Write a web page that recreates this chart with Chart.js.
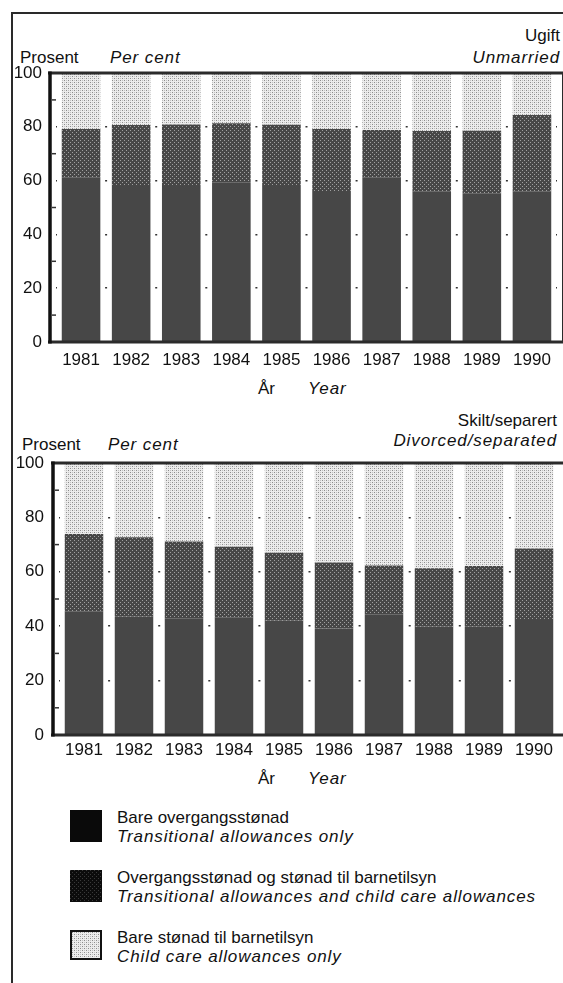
<!DOCTYPE html>
<html><head><meta charset="utf-8">
<script src="https://cdn.jsdelivr.net/npm/chart.js@4"></script>
<style>
html,body{margin:0;padding:0;background:#fff;}
body{width:563px;height:983px;position:relative;overflow:hidden;font-family:"Liberation Sans",Arial,Helvetica,sans-serif;color:#111;}
.t{position:absolute;font-size:17px;line-height:1;white-space:nowrap;transform:translateY(-50%);}
.i{font-style:italic;letter-spacing:0.9px;}
canvas{position:absolute;left:0;}
#bTop{position:absolute;left:11px;top:12px;width:560px;height:2px;background:#2a2a2a;}
#bLeft{position:absolute;left:11px;top:12px;width:2px;height:975px;background:#2a2a2a;}
.sw{position:absolute;left:70px;width:32px;height:32px;box-sizing:border-box;}
</style></head><body>
<div id="bTop"></div><div id="bLeft"></div>

<div class="t" style="right:3px;top:35px">Ugift</div>
<div class="t i" style="right:3px;top:57px">Unmarried</div>
<div class="t" style="left:20px;top:57px">Prosent</div>
<div class="t i" style="left:110px;top:57px">Per cent</div>
<canvas id="c1" width="563" height="310" style="top:60px"></canvas>
<div class="t" style="left:258px;top:388px">År</div>
<div class="t i" style="left:308px;top:388px">Year</div>

<div class="t" style="right:6px;top:420px">Skilt/separert</div>
<div class="t i" style="right:6px;top:440px">Divorced/separated</div>
<div class="t" style="left:22px;top:444px">Prosent</div>
<div class="t i" style="left:108px;top:444px">Per cent</div>
<canvas id="c2" width="563" height="310" style="top:450px"></canvas>
<div class="t" style="left:258px;top:778px">År</div>
<div class="t i" style="left:308px;top:778px">Year</div>

<div id="sw1" class="sw" style="top:810px"></div>
<div class="t" style="left:117px;top:817px">Bare overgangsstønad</div>
<div class="t i" style="left:117px;top:836px">Transitional allowances only</div>
<div id="sw2" class="sw" style="top:870px"></div>
<div class="t" style="left:117px;top:877px">Overgangsstønad og stønad til barnetilsyn</div>
<div class="t i" style="left:117px;top:896px">Transitional allowances and child care allowances</div>
<div id="sw3" class="sw" style="top:930px;height:30px"></div>
<div class="t" style="left:117px;top:937px">Bare stønad til barnetilsyn</div>
<div class="t i" style="left:117px;top:956px">Child care allowances only</div>

<script>
// ---- data ----
const years = ['1981','1982','1983','1984','1985','1986','1987','1988','1989','1990'];
const seriesNames = ['Bare overgangsstønad','Overgangsstønad og stønad til barnetilsyn','Bare stønad til barnetilsyn'];
// Ugift / Unmarried
const unmarriedTransOnly  = [61.2, 58.4, 58.4, 59.4, 58.4, 56.1, 61.2, 55.9, 55.3, 55.9];
const unmarriedBoth       = [18.0, 22.3, 22.5, 21.9, 22.4, 23.1, 17.6, 22.5, 23.2, 28.5];
const unmarriedChildOnly  = [20.8, 19.3, 19.1, 18.7, 19.2, 20.8, 21.2, 21.6, 21.5, 15.6];
// Skilt/separert / Divorced/separated
const divorcedTransOnly   = [45.3, 43.5, 42.9, 43.1, 42.0, 39.2, 44.4, 39.8, 39.8, 42.3];
const divorcedBoth        = [28.6, 29.2, 28.2, 26.1, 25.0, 24.2, 17.9, 21.5, 22.3, 26.3];
const divorcedChildOnly   = [26.1, 27.3, 28.9, 30.8, 33.0, 36.6, 37.7, 38.7, 37.9, 31.4];
const yTickValues = [0, 20, 40, 60, 80, 100];
const minorTickValues = [10, 30, 50, 70, 90];

// ---- textures ----
function makeTile(base, dots){
  const c=document.createElement('canvas'); c.width=4; c.height=4;
  const g=c.getContext('2d'); g.fillStyle=base; g.fillRect(0,0,4,4);
  dots.forEach(d=>{g.fillStyle=d[2]; g.fillRect(d[0],d[1],1,1);});
  return c;
}
const tileMed = makeTile('#474747', [[0,0,'#a0a0a0'],[2,2,'#a0a0a0']]);
const tileLight = makeTile('#ececec', [[0,0,'#8c8c8c'],[2,2,'#8c8c8c'],[0,2,'#c2c2c2'],[2,0,'#c2c2c2']]);
const tileLegMed = makeTile('#0c0c0c', [[0,0,'#3a3a3a'],[2,2,'#3a3a3a']]);
const pctx = document.createElement('canvas').getContext('2d');
const patMed = pctx.createPattern(tileMed,'repeat');
const patLight = pctx.createPattern(tileLight,'repeat');
document.getElementById('sw1').style.background='#0a0a0a';
document.getElementById('sw2').style.background='url('+tileLegMed.toDataURL()+')';
const sw3=document.getElementById('sw3');
sw3.style.background='url('+tileLight.toDataURL()+')';
sw3.style.border='2px solid #111';

Chart.defaults.font.family = '"Liberation Sans", Arial, Helvetica, sans-serif';
Chart.defaults.font.size = 17;
Chart.defaults.color = '#111';

const framePlugin = {
  id:'frame',
  afterDatasetsDraw(chart, args, opts){
    const {ctx, chartArea:{left,right,top,bottom}} = chart;
    const l = left - opts.ext, r = right + opts.ext;
    ctx.save();
    ctx.strokeStyle = '#2b2b2b';
    ctx.lineWidth = 3;
    ctx.beginPath(); ctx.moveTo(l-2, top); ctx.lineTo(r, top); ctx.stroke();
    ctx.beginPath(); ctx.moveTo(l-2, bottom); ctx.lineTo(r, bottom); ctx.stroke();
    ctx.lineWidth = 2;
    ctx.beginPath(); ctx.moveTo(r, top); ctx.lineTo(r, bottom); ctx.stroke();
    ctx.strokeStyle = '#111';
    ctx.lineWidth = 3.5;
    ctx.beginPath(); ctx.moveTo(l, top-1.5); ctx.lineTo(l, bottom+1.5); ctx.stroke();
    const ys = chart.scales.y;
    ctx.lineWidth = 1.5; ctx.strokeStyle='#333';
    minorTickValues.forEach(v=>{
      const py = ys.getPixelForValue(v);
      ctx.beginPath(); ctx.moveTo(l+2, py); ctx.lineTo(l+6, py); ctx.stroke();
    });
    ctx.restore();
  }
};

function makeChart(id, a, b, c, g){
  new Chart(document.getElementById(id), {
    type:'bar',
    data:{ labels: years, datasets:[
      {label:seriesNames[0], data:a, backgroundColor:'#474747'},
      {label:seriesNames[1], data:b, backgroundColor:patMed},
      {label:seriesNames[2], data:c, backgroundColor:patLight}
    ]},
    options:{
      responsive:false, animation:false, devicePixelRatio:1,
      layout:{padding:{top:g.padTop, right:g.padRight, left:0, bottom:0}},
      datasets:{bar:{barPercentage:0.77, categoryPercentage:1, borderWidth:0}},
      plugins:{legend:{display:false}, tooltip:{enabled:false}, frame:{ext:6}},
      scales:{
        x:{stacked:true, grid:{display:false}, border:{display:false},
           ticks:{padding:g.xPad, color:'#111', maxRotation:0, autoSkip:false},
           afterFit:s=>{s.height=g.xH;}},
        y:{stacked:true, min:0, max:100,
           afterBuildTicks:s=>{s.ticks = yTickValues.map(v=>({value:v}));},
           ticks:{padding:0, color:'#111'},
           grid:{drawTicks:true, tickLength:g.yPad, tickColor:'rgba(0,0,0,0)', lineWidth:1.5,
                 color:ctx=> (ctx.tick && (ctx.tick.value===0||ctx.tick.value===100)) ? 'rgba(0,0,0,0)' : '#333'},
           border:{display:false, dash:[2,48.1], dashOffset:1},
           afterFit:s=>{s.width=g.yW;}}
      }
    },
    plugins:[framePlugin]
  });
}
makeChart('c1', unmarriedTransOnly, unmarriedBoth, unmarriedChildOnly, {padTop:13, padRight:6, xPad:0, xH:28, yPad:14, yW:56});
makeChart('c2', divorcedTransOnly, divorcedBoth, divorcedChildOnly, {padTop:13, padRight:4, xPad:-3, xH:25, yPad:15, yW:59});
</script>
</body></html>
